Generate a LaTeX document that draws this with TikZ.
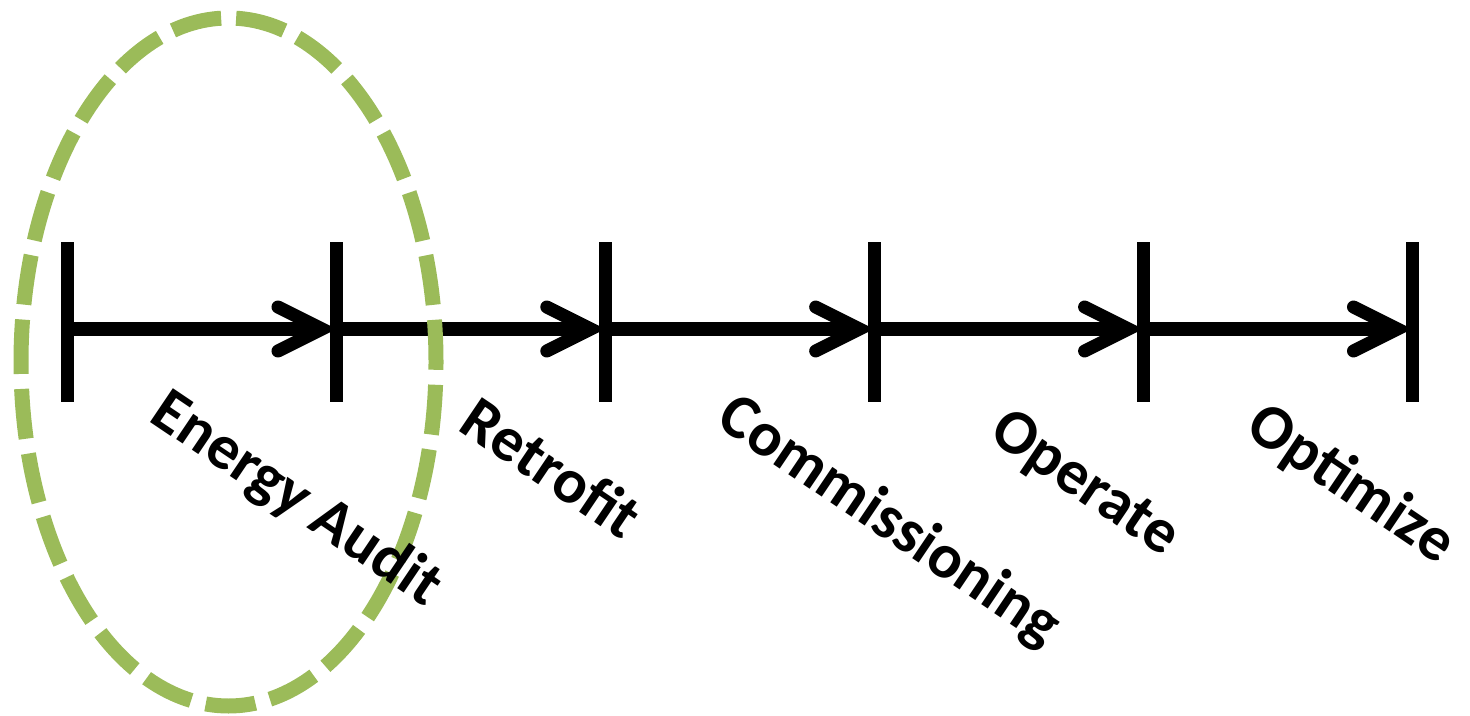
\documentclass[tikz,border=0pt]{standalone}
\usepackage{fontspec}
\setmainfont{Carlito}
\usetikzlibrary{arrows.meta}
\definecolor{auditgreen}{HTML}{9BBB59}
\tikzset{
  tickbar/.style={fill=black, draw=none, minimum width=6.5pt, minimum height=80pt, inner sep=0pt, outer sep=0pt},
  stagearrow/.style={line width=6.5pt, -{Straight Barb[length=22pt, width=22pt, line cap=round]}},
  stagelabel/.style={font=\bfseries\fontsize{31.5}{38}\selectfont, rotate=-34, inner sep=0pt},
  auditring/.style={draw=auditgreen, line width=7.5pt, dash pattern=on 25pt off 7.5pt, dash phase=3.75pt}
}
\begin{document}
\begin{tikzpicture}[x=0.5pt, y=-0.5pt]
\useasboundingbox (0,0) rectangle (1470,716);
% ticks
\node[tickbar] (t0) at (67.5,322) {};
\node[tickbar] (t1) at (336.5,322) {};
\node[tickbar] (t2) at (605.3,322) {};
\node[tickbar] (t3) at (874.2,322) {};
\node[tickbar] (t4) at (1143.1,322) {};
\node[tickbar] (t5) at (1412,322) {};
\coordinate (a0) at (67.5,329);
\coordinate (a1) at (336.5,329);
\coordinate (a2) at (605.3,329);
\coordinate (a3) at (874.2,329);
\coordinate (a4) at (1143.1,329);
\coordinate (a5) at (1412,329);
% arrows
\draw[stagearrow] (a0) -- (a1);
\draw[stagearrow] (a1) -- (a2);
\draw[stagearrow] (a2) -- (a3);
\draw[stagearrow] (a3) -- (a4);
\draw[stagearrow] (a4) -- (a5);
% ring
\draw[auditring] (21,362) arc[start angle=180, end angle=540, x radius=207.5, y radius=344];
% labels
\node[stagelabel] (l1) at (296,500) {Energy Audit};
\node[stagelabel] (l2) at (552,467) {Retrofit};
\node[stagelabel] (l3) at (889,522) {Commissioning};
\node[stagelabel] (l4) at (1084,485) {Operate};
\node[stagelabel] (l5) at (1351,485) {Optimize};
\end{tikzpicture}
\end{document}
